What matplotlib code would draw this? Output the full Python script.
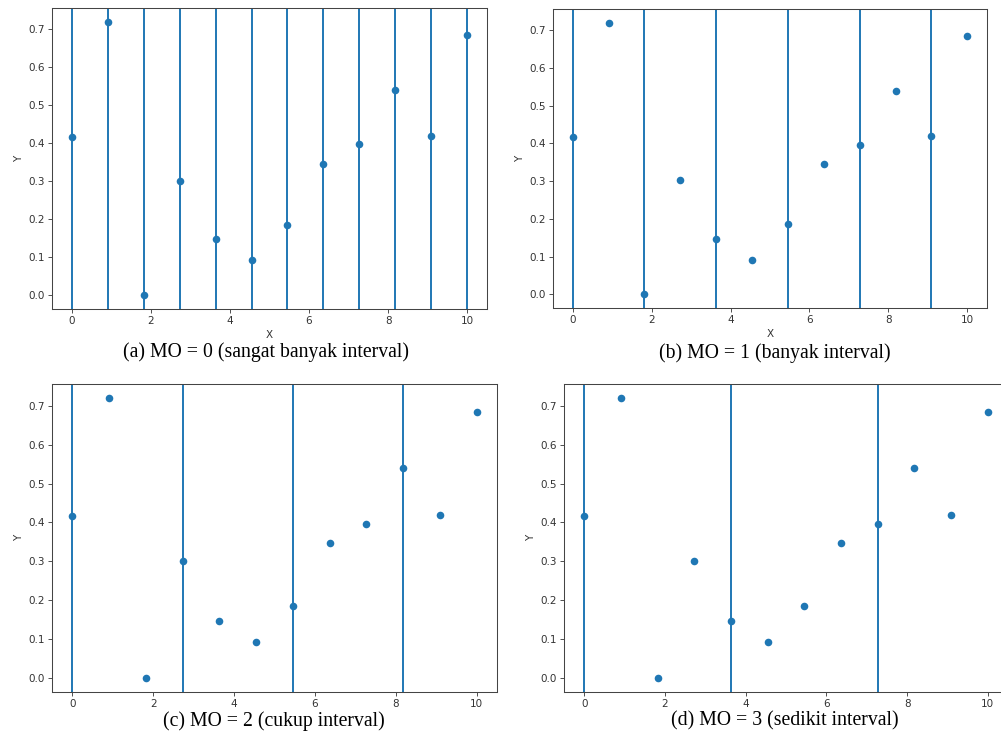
import matplotlib
matplotlib.use("Agg")
import matplotlib.pyplot as plt

# Data
x_vals = [0.0, 0.909, 1.818, 2.727, 3.636, 4.545, 5.455, 6.364, 7.273, 8.182, 9.091, 10.0]
y_vals = [0.417, 0.720, 0.000, 0.302, 0.147, 0.092, 0.186, 0.346, 0.397, 0.539, 0.419, 0.685]
split_steps = [1, 2, 3, 4]  # every n-th x gets a vertical interval line
captions = [
    "(a) MO = 0 (sangat banyak interval)",
    "(b) MO = 1 (banyak interval)",
    "(c) MO = 2 (cukup interval)",
    "(d) MO = 3 (sedikit interval)",
]
show_xlabel = [True, True, False, False]

W, H = 1001, 733
s = 0.75
plt.rcParams.update({
    "font.size": 10 * s,
    "axes.linewidth": 1.0 * s,
    "xtick.major.size": 3.5 * s,
    "ytick.major.size": 3.5 * s,
    "xtick.major.width": 0.8 * s,
    "ytick.major.width": 0.8 * s,
    "xtick.major.pad": 3.5 * s,
    "ytick.major.pad": 3.5 * s,
    "axes.labelpad": 4.0 * s,
    "text.color": "#333333",
    "axes.labelcolor": "#333333",
    "xtick.color": "#333333",
    "ytick.color": "#333333",
    "axes.edgecolor": "#444444",
})

fig = plt.figure(figsize=(W / 100, H / 100), dpi=100)

# pixel boxes: left, right, top, bottom
boxes = [
    (52, 487, 8, 309),
    (553, 987, 9, 308),
    (52, 497, 384, 692),
    (564, 1008, 384, 692),
]
cap_pos = [(266, 352), (775, 353), (274, 721), (785, 721)]

for i, (l, r, t, b) in enumerate(boxes):
    ax = fig.add_axes([l / W, (H - b) / H, (r - l) / W, (b - t) / H])
    step = split_steps[i]
    for xv in x_vals[::step]:
        ax.axvline(xv, color="#1f77b4", lw=1.4)
    ax.scatter(x_vals, y_vals, s=30, color="#1f77b4", zorder=3, linewidths=0)
    ax.set_ylabel("Y")
    if show_xlabel[i]:
        ax.set_xlabel("X")
    ax.set_xticks([0, 2, 4, 6, 8, 10])
    ax.set_yticks([0.0, 0.1, 0.2, 0.3, 0.4, 0.5, 0.6, 0.7])
    cx, cy = cap_pos[i]
    fig.text(cx / W, 1 - cy / H, captions[i], ha="center", va="center",
             family="Liberation Serif", fontsize=14.2, color="black")

fig.savefig("out.png", dpi=100)
